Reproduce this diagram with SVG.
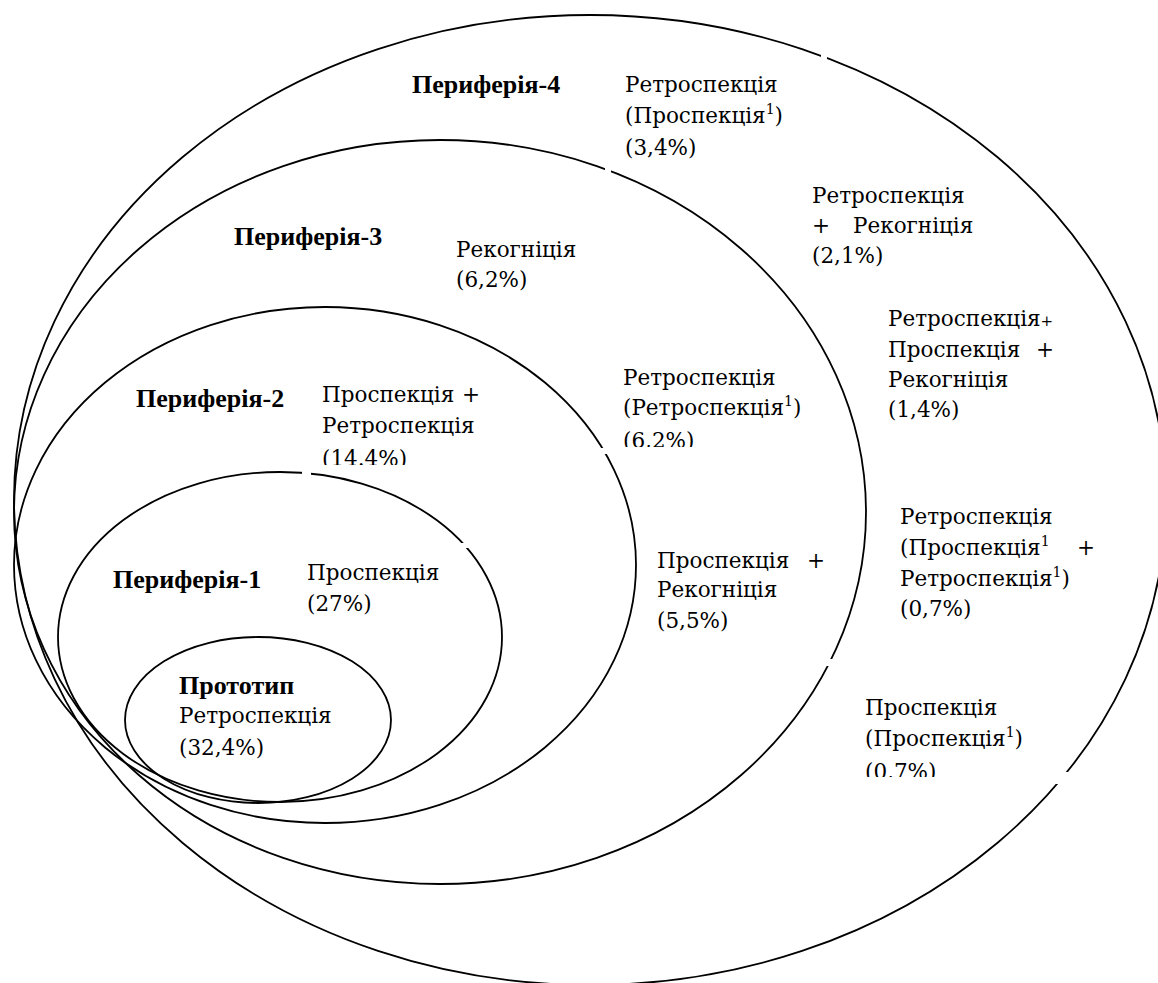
<svg xmlns="http://www.w3.org/2000/svg" width="1158" height="983" viewBox="0 0 1158 983">
<style>
.e{fill:none;stroke:#000;stroke-width:1.8}
.g{fill:#fff;stroke:none}
.t{font-family:"DejaVu Serif","Liberation Serif",serif;font-size:21.5px;fill:#000}
.b{font-family:"Liberation Serif",serif;font-size:26px;font-weight:bold}
.s{font-size:14px}
</style>
<defs>
<clipPath id="c144"><rect x="0" y="0" width="1158" height="465"/></clipPath>
<clipPath id="c62"><rect x="0" y="0" width="1158" height="447"/></clipPath>
<clipPath id="c07"><rect x="0" y="0" width="1158" height="777"/></clipPath>
</defs>
<rect width="1158" height="983" fill="#fff"/>
<g id="connectors"></g>
<g id="periphery4"><ellipse class="e" cx="590" cy="500" rx="576" ry="485"/></g>
<g id="periphery3"><ellipse class="e" cx="440" cy="512" rx="426" ry="372"/></g>
<g id="periphery2"><ellipse class="e" cx="325" cy="565" rx="311" ry="258"/></g>
<g id="periphery1"><ellipse class="e" cx="280" cy="637" rx="222" ry="165"/></g>
<g id="prototype"><ellipse class="e" cx="258" cy="720" rx="133" ry="83"/></g>
<g id="gaps">
<rect class="g" x="821" y="48" width="6" height="18"/>
<rect class="g" x="605" y="160" width="6" height="18"/>
<rect class="g" x="302" y="464" width="9" height="16"/>
<rect class="g" x="452" y="543" width="25" height="5"/>
<rect class="g" x="594" y="448" width="22" height="6"/>
<rect class="g" x="818" y="659" width="26" height="7"/>
<rect class="g" x="1046" y="772" width="30" height="12"/>
</g>
<g id="labels-p4">
<text class="t b" x="412" y="93">Периферія-4</text>
<text class="t" x="625" y="92">Ретроспекція</text>
<text class="t" x="625" y="123">(Проспекція<tspan class="s" dy="-9">1</tspan><tspan dy="9">)</tspan></text>
<text class="t" x="625" y="155">(3,4%)</text>
<text class="t" x="812" y="203">Ретроспекція</text>
<text class="t" x="812" y="233">+</text>
<text class="t" x="853" y="233">Рекогніція</text>
<text class="t" x="812" y="263">(2,1%)</text>
<text class="t" x="888" y="326">Ретроспекція<tspan font-size="15">+</tspan></text>
<text class="t" x="888" y="357">Проспекція</text>
<text class="t" x="1036" y="357">+</text>
<text class="t" x="888" y="387">Рекогніція</text>
<text class="t" x="888" y="417">(1,4%)</text>
<text class="t" x="900" y="524">Ретроспекція</text>
<text class="t" x="900" y="555">(Проспекція<tspan class="s" dy="-9">1</tspan></text>
<text class="t" x="1077" y="555">+</text>
<text class="t" x="900" y="586">Ретроспекція<tspan class="s" dy="-9">1</tspan><tspan dy="9">)</tspan></text>
<text class="t" x="900" y="616">(0,7%)</text>
<text class="t" x="865" y="715">Проспекція</text>
<text class="t" x="865" y="746">(Проспекція<tspan class="s" dy="-9">1</tspan><tspan dy="9">)</tspan></text>
<text class="t" x="865" y="779" clip-path="url(#c07)">(0,7%)</text>
</g>
<g id="labels-p3">
<text class="t b" x="234" y="245">Периферія-3</text>
<text class="t" x="456" y="257">Рекогніція</text>
<text class="t" x="456" y="287">(6,2%)</text>
<text class="t" x="623" y="385">Ретроспекція</text>
<text class="t" x="623" y="415">(Ретроспекція<tspan class="s" dy="-9">1</tspan><tspan dy="9">)</tspan></text>
<text class="t" x="623" y="448" clip-path="url(#c62)">(6,2%)</text>
<text class="t" x="657" y="568">Проспекція</text>
<text class="t" x="807" y="568">+</text>
<text class="t" x="657" y="597">Рекогніція</text>
<text class="t" x="657" y="628">(5,5%)</text>
</g>
<g id="labels-p2">
<text class="t b" x="136" y="407">Периферія-2</text>
<text class="t" x="322" y="402">Проспекція</text>
<text class="t" x="462" y="402">+</text>
<text class="t" x="322" y="433">Ретроспекція</text>
<text class="t" x="322" y="466" clip-path="url(#c144)">(14.4%)</text>
</g>
<g id="labels-p1">
<text class="t b" x="113" y="588">Периферія-1</text>
<text class="t" x="307" y="580">Проспекція</text>
<text class="t" x="307" y="611">(27%)</text>
</g>
<g id="labels-prototype">
<text class="t b" x="179" y="694">Прототип</text>
<text class="t" x="179" y="723">Ретроспекція</text>
<text class="t" x="179" y="755">(32,4%)</text>
</g>
</svg>
